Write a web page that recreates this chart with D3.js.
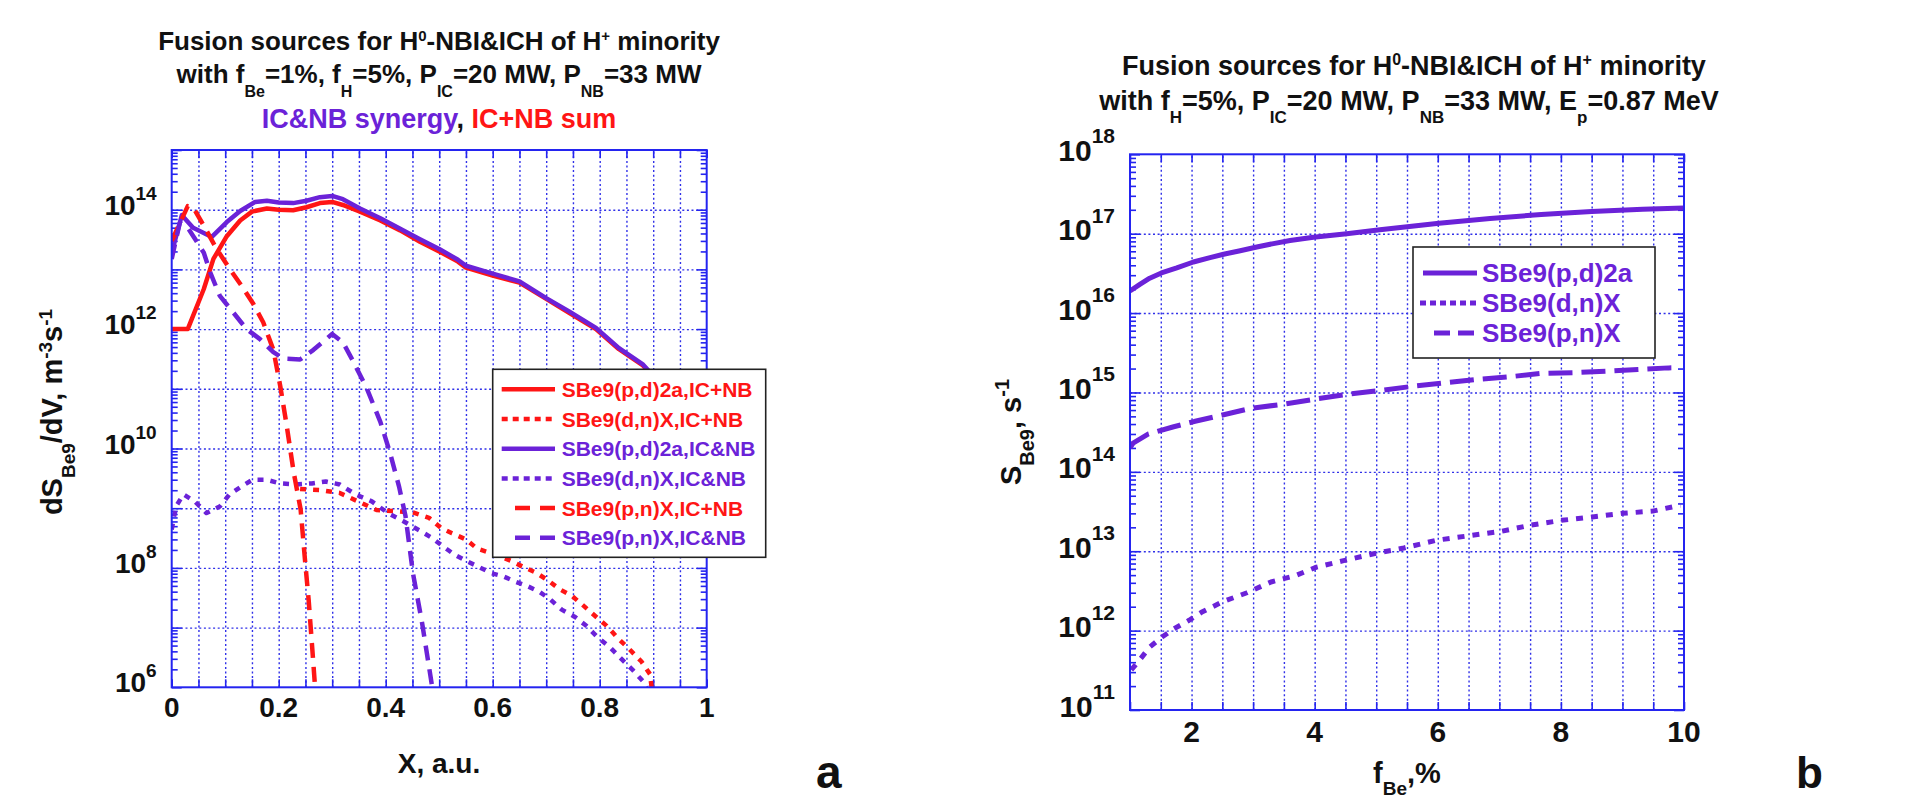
<!DOCTYPE html>
<html><head><meta charset="utf-8">
<script src="https://cdn.jsdelivr.net/npm/d3@7"></script>
<style>
body{margin:0;background:#fff}
svg{display:block}
text{font-family:"Liberation Sans",Arial,Helvetica,sans-serif;font-weight:bold}
</style>
</head><body>
<svg id="c" width="1930" height="800"></svg>
<script>
// ---------------- DATA: panel a (X, a.u. vs dS/dV) ----------------
const pdSumA = [[0,1e12],[0.03,1e12],[0.06,4.7e12],[0.078,1.5e13],[0.103,3.6e13],[0.128,6.6e13],[0.15,9.3e13],[0.178,1.05e14],[0.2,1.0e14],[0.227,9.8e13],[0.252,1.1e14],[0.277,1.29e14],[0.3,1.35e14],[0.32,1.2e14],[0.352,9.3e13],[0.39,6.6e13],[0.427,4.5e13],[0.464,2.9e13],[0.5,2.0e13],[0.535,1.35e13],[0.55,1.07e13],[0.6,7.9e12],[0.65,6.0e12],[0.7,3.2e12],[0.742,1.9e12],[0.793,1.0e12],[0.836,4.6e11],[0.88,2.5e11],[0.92,1.0e11],[0.96,3.0e10]];
const dnSumA = [[0.24,2.1e9],[0.28,2.0e9],[0.314,1.8e9],[0.348,1.3e9],[0.383,9.3e8],[0.42,8.9e8],[0.451,8.5e8],[0.481,6.9e8],[0.503,4.7e8],[0.524,3.8e8],[0.55,3.0e8],[0.571,2.1e8],[0.606,1.66e8],[0.635,1.3e8],[0.659,1.02e8],[0.681,8.3e7],[0.702,6.3e7],[0.725,4.4e7],[0.748,3.4e7],[0.768,2.4e7],[0.791,1.58e7],[0.813,1.07e7],[0.835,6.5e6],[0.856,4.3e6],[0.878,2.7e6],[0.894,1.66e6],[0.897,1.0e6]];
const pdSynA = [[0,1.9e13],[0.019,8.1e13],[0.04,5.0e13],[0.075,3.5e13],[0.103,6.2e13],[0.128,9.5e13],[0.156,1.35e14],[0.178,1.41e14],[0.2,1.32e14],[0.227,1.29e14],[0.252,1.41e14],[0.277,1.62e14],[0.3,1.7e14],[0.32,1.5e14],[0.352,1.05e14],[0.39,7.2e13],[0.427,4.8e13],[0.464,3.2e13],[0.5,2.2e13],[0.535,1.45e13],[0.55,1.15e13],[0.6,8.5e12],[0.65,6.3e12],[0.7,3.3e12],[0.742,2.0e12],[0.793,1.05e12],[0.836,4.8e11],[0.88,2.6e11],[0.92,1.05e11],[0.96,3.3e10]];
const dnSynA = [[0,4.4e8],[0.008,1.07e9],[0.022,1.7e9],[0.043,1.3e9],[0.065,8.3e8],[0.09,1.07e9],[0.108,1.7e9],[0.13,2.3e9],[0.151,3.0e9],[0.177,3.0e9],[0.203,2.6e9],[0.232,2.5e9],[0.262,2.6e9],[0.288,2.8e9],[0.314,2.5e9],[0.344,1.7e9],[0.374,1.3e9],[0.404,8.3e8],[0.434,6.0e8],[0.46,4.4e8],[0.486,3.2e8],[0.507,2.3e8],[0.529,1.66e8],[0.551,1.3e8],[0.573,1.05e8],[0.598,8.1e7],[0.62,7.2e7],[0.642,5.9e7],[0.664,5.0e7],[0.687,4.0e7],[0.707,3.0e7],[0.729,2.0e7],[0.754,1.5e7],[0.775,1.07e7],[0.796,6.9e6],[0.819,4.7e6],[0.842,2.9e6],[0.863,1.9e6],[0.883,1.2e6],[0.888,1.0e6]];
const pnSumA = [[0,3.0e13],[0.03,1.15e14],[0.04,1.1e14],[0.06,5.4e13],[0.084,2.2e13],[0.109,1.0e13],[0.13,5.4e12],[0.153,2.6e12],[0.171,1.3e12],[0.19,4.5e11],[0.203,1.1e11],[0.215,2.4e10],[0.228,4.0e9],[0.241,9.5e8],[0.249,1.4e8],[0.256,2.9e7],[0.262,5.5e6],[0.268,1.0e6]];
const pnSynA = [[0,1.5e13],[0.015,6.0e13],[0.03,5.0e13],[0.044,3.2e13],[0.06,1.9e13],[0.072,8.9e12],[0.09,3.6e12],[0.115,1.9e12],[0.14,1.0e12],[0.165,6.8e11],[0.19,4.1e11],[0.209,3.2e11],[0.24,3.1e11],[0.265,4.5e11],[0.3,8.3e11],[0.32,6.0e11],[0.34,2.8e11],[0.365,1.0e11],[0.39,2.8e10],[0.408,8.5e9],[0.425,2.3e9],[0.437,7.4e8],[0.451,8.1e7],[0.468,1.2e7],[0.487,1.0e6]];
const xTicksA = [0,0.2,0.4,0.6,0.8,1];
const xTickLabelsA = ["0","0.2","0.4","0.6","0.8","1"];
const yTickExpA = [6,8,10,12,14];
const legendA = ["SBe9(p,d)2a,IC+NB","SBe9(d,n)X,IC+NB","SBe9(p,d)2a,IC&NB","SBe9(d,n)X,IC&NB","SBe9(p,n)X,IC+NB","SBe9(p,n)X,IC&NB"];

// ---------------- DATA: panel b (f_Be, % vs S_Be9) ----------------
const fPd = [1.0,1.16,1.32,1.51,1.76,2.03,2.3,2.52,2.79,3.06,3.33,3.6,3.98,4.52,5.06,6.02,6.85,7.68,8.5,9.33,10];
const sPd = [1.9e16,2.3e16,2.75e16,3.2e16,3.7e16,4.4e16,5.0e16,5.5e16,6.1e16,6.8e16,7.5e16,8.2e16,9.0e16,1.0e17,1.12e17,1.35e17,1.55e17,1.75e17,1.9e17,2.03e17,2.1e17];
const fDn = [1.02,1.17,1.32,1.52,1.71,1.96,2.16,2.5,2.9,3.29,3.68,4.03,4.47,4.96,5.45,5.99,6.54,7.03,7.52,8.01,8.51,9.0,9.49,9.94];
const sDn = [3.2e11,4.4e11,6.2e11,8.3e11,1.05e12,1.35e12,1.7e12,2.3e12,3.0e12,4.1e12,4.9e12,6.3e12,7.6e12,9.3e12,1.1e13,1.38e13,1.58e13,1.78e13,2.14e13,2.45e13,2.7e13,3.0e13,3.2e13,3.8e13];
const fPn = [1.0,1.05,1.3,1.71,2.04,2.46,2.96,3.54,4.03,4.53,5.11,5.61,6.11,6.6,7.18,7.68,8.26,8.76,9.25,9.75,9.9];
const sPn = [2.0e14,2.3e14,3.0e14,3.7e14,4.3e14,5.1e14,6.3e14,7.2e14,8.3e14,9.5e14,1.07e15,1.2e15,1.32e15,1.45e15,1.58e15,1.74e15,1.78e15,1.86e15,1.95e15,2.04e15,2.05e15];
const xTicksB = [2,4,6,8,10];
const xTickLabelsB = ["2","4","6","8","10"];
const yTickExpB = [11,12,13,14,15,16,17,18];
const legendB = ["SBe9(p,d)2a","SBe9(d,n)X","SBe9(p,n)X"];

// ---------------- STYLE ----------------
const RED = "#ff1515", PUR = "#6b22d8", AX = "#2424f0", GRID = "#3030e8";
const svg = d3.select("#c");
const defs = svg.append("defs");

function rich(textSel, segs, subSize, supShift, subShift) {
  let cur = 0;
  segs.forEach(s => {
    const target = s.k === "sup" ? -supShift : (s.k === "sub" ? subShift : 0);
    const ts = textSel.append("tspan").text(s.t).attr("dy", target - cur);
    if (s.k) ts.attr("font-size", subSize);
    if (s.c) ts.attr("fill", s.c);
    cur = target;
  });
}

function drawPanel(p) {
  const x = d3.scaleLinear().domain(p.xDomain).range([p.l, p.r]);
  const y = d3.scaleLog().domain(p.yDomain).range([p.b, p.t]);
  const W = p.r - p.l, H = p.b - p.t;
  const g = svg.append("g");
  defs.append("clipPath").attr("id", "clip" + p.id).append("rect")
    .attr("x", p.l).attr("y", p.t).attr("width", W).attr("height", H);

  const styleGrid = sel => {
    sel.select(".domain").remove();
    sel.selectAll("line").attr("stroke", GRID).attr("stroke-width", 1.4).attr("stroke-dasharray", "2,2.6");
  };
  g.append("g").attr("transform", `translate(0,${p.b})`)
    .call(d3.axisBottom(x).tickValues(p.xGrid).tickSize(-H).tickFormat("")).call(styleGrid);
  g.append("g").attr("transform", `translate(${p.l},0)`)
    .call(d3.axisLeft(y).tickValues(p.yGrid).tickSize(-W).tickFormat("")).call(styleGrid);

  const styleTicks = sel => {
    sel.select(".domain").remove();
    sel.selectAll("line").attr("stroke", AX).attr("stroke-width", 1.6);
  };
  const allX = p.xGrid.concat(p.xDomain);
  g.append("g").attr("transform", `translate(0,${p.b})`).call(d3.axisBottom(x).tickValues(allX).tickSize(-8).tickFormat("")).call(styleTicks);
  g.append("g").attr("transform", `translate(0,${p.t})`).call(d3.axisTop(x).tickValues(allX).tickSize(-8).tickFormat("")).call(styleTicks);
  const minors = [], majors = [];
  const e0 = Math.round(Math.log10(p.yDomain[0])), e1 = Math.round(Math.log10(p.yDomain[1]));
  for (let e = e0; e <= e1; e++) {
    majors.push(Math.pow(10, e));
    if (e < e1) for (let m = 2; m <= 9; m++) minors.push(m * Math.pow(10, e));
  }
  [[d3.axisLeft, p.l], [d3.axisRight, p.r]].forEach(([ax, pos]) => {
    g.append("g").attr("transform", `translate(${pos},0)`).call(ax(y).tickValues(minors).tickSize(-6).tickFormat("")).call(styleTicks);
    g.append("g").attr("transform", `translate(${pos},0)`).call(ax(y).tickValues(majors).tickSize(-10).tickFormat("")).call(styleTicks);
  });

  const line = d3.line().x(d => x(d[0])).y(d => y(d[1]));
  const sg = g.append("g").attr("clip-path", `url(#clip${p.id})`);
  p.series.forEach(s => {
    sg.append("path").datum(s.data).attr("d", line).attr("fill", "none")
      .attr("stroke", s.color).attr("stroke-width", p.lw)
      .attr("stroke-dasharray", s.dash || null).attr("stroke-linejoin", "round");
  });

  g.append("rect").attr("x", p.l).attr("y", p.t).attr("width", W).attr("height", H)
    .attr("fill", "none").attr("stroke", AX).attr("stroke-width", 2);

  p.xTicks.forEach((v, i) => {
    g.append("text").attr("x", x(v)).attr("y", p.b + p.xLabOff).attr("text-anchor", "middle")
      .attr("font-size", p.tickFs).attr("fill", "#111").text(p.xTickLabels[i]);
  });
  p.yTickExp.forEach(e => {
    const t = g.append("text").attr("x", p.l - p.yLabGap).attr("y", y(Math.pow(10, e)) + p.yBaseOff)
      .attr("text-anchor", "end").attr("font-size", p.tickFs).attr("fill", "#111");
    t.append("tspan").text("10");
    t.append("tspan").text(String(e)).attr("font-size", p.expFs).attr("dy", -p.expShift);
  });

  const L = p.legend;
  g.append("rect").attr("x", L.x).attr("y", L.y).attr("width", L.w).attr("height", L.h)
    .attr("fill", "#fff").attr("stroke", "#222").attr("stroke-width", 1.6);
  L.items.forEach((it, i) => {
    const cy = L.y + L.first + i * L.step;
    g.append("line").attr("x1", it.x1 || L.lx1).attr("x2", L.lx2).attr("y1", cy).attr("y2", cy)
      .attr("stroke", it.color).attr("stroke-width", p.lw).attr("stroke-dasharray", it.ldash || null);
    g.append("text").attr("x", L.tx).attr("y", cy + L.baseOff).attr("font-size", L.fs)
      .attr("fill", it.color).text(it.label);
  });
  return {x, y};
}

// ---------------- PANEL A ----------------
drawPanel({
  id: "A", l: 171.7, r: 706.7, t: 150, b: 687.3,
  xDomain: [0, 1], yDomain: [1e6, 1e15],
  xGrid: d3.range(1, 20).map(i => i * 0.05),
  yGrid: [1e7,1e8,1e9,1e10,1e11,1e12,1e13,1e14],
  xTicks: xTicksA, xTickLabels: xTickLabelsA, yTickExp: yTickExpA,
  tickFs: 28, expFs: 19, expShift: 15, yBaseOff: 5, yLabGap: 15, xLabOff: 30, lw: 4.5,
  series: [
    {data: pdSumA, color: RED},
    {data: dnSumA, color: RED, dash: "6,7"},
    {data: pdSynA, color: PUR},
    {data: dnSynA, color: PUR, dash: "6,7"},
    {data: pnSumA, color: RED, dash: "15,9"},
    {data: pnSynA, color: PUR, dash: "15,9"}
  ],
  legend: {
    x: 492.7, y: 369.3, w: 273, h: 188, first: 20, step: 29.7, lx1: 501.7, lx2: 555, tx: 561.7, fs: 21, baseOff: 7.5,
    items: [
      {label: legendA[0], color: RED},
      {label: legendA[1], color: RED, ldash: "6,5"},
      {label: legendA[2], color: PUR},
      {label: legendA[3], color: PUR, ldash: "6,5"},
      {label: legendA[4], color: RED, ldash: "15,10", x1: 515},
      {label: legendA[5], color: PUR, ldash: "15,10", x1: 515}
    ]
  }
});

// ---------------- PANEL B ----------------
const zip = (a, b) => a.map((v, i) => [v, b[i]]);
drawPanel({
  id: "B", l: 1130, r: 1684, t: 154.3, b: 710,
  xDomain: [1, 10], yDomain: [1e11, 1e18],
  xGrid: d3.range(1, 18).map(i => 1 + i * 0.5),
  yGrid: [1e12,1e13,1e14,1e15,1e16,1e17],
  xTicks: xTicksB, xTickLabels: xTickLabelsB, yTickExp: yTickExpB,
  tickFs: 30, expFs: 21, expShift: 17.5, yBaseOff: 6.5, yLabGap: 15, xLabOff: 32, lw: 5,
  series: [
    {data: zip(fPd, sPd), color: PUR},
    {data: zip(fDn, sDn), color: PUR, dash: "7,8"},
    {data: zip(fPn, sPn), color: PUR, dash: "24,9"}
  ],
  legend: {
    x: 1413, y: 247, w: 242, h: 111, first: 26, step: 30, lx1: 1423, lx2: 1477, tx: 1482, fs: 26, baseOff: 9,
    items: [
      {label: legendB[0], color: PUR},
      {label: legendB[1], color: PUR, ldash: "6,4", x1: 1420},
      {label: legendB[2], color: PUR, ldash: "16,8", x1: 1434}
    ]
  }
});

// ---------------- TITLES & AXIS LABELS ----------------
const tA1 = svg.append("text").attr("x", 439).attr("y", 50).attr("text-anchor", "middle").attr("font-size", 26).attr("fill", "#111");
rich(tA1, [{t:"Fusion sources for H"},{t:"0",k:"sup"},{t:"-NBI&ICH of H"},{t:"+",k:"sup"},{t:" minority"}], 15, 9, 13);
const tA2 = svg.append("text").attr("x", 439).attr("y", 83).attr("text-anchor", "middle").attr("font-size", 26).attr("fill", "#111");
rich(tA2, [{t:"with f"},{t:"Be",k:"sub"},{t:"=1%, f"},{t:"H",k:"sub"},{t:"=5%, P"},{t:"IC",k:"sub"},{t:"=20 MW, P"},{t:"NB",k:"sub"},{t:"=33 MW"}], 16, 9, 14);
const tA3 = svg.append("text").attr("x", 439).attr("y", 128).attr("text-anchor", "middle").attr("font-size", 27);
rich(tA3, [{t:"IC&NB synergy", c: PUR},{t:", ", c:"#111"},{t:"IC+NB sum", c: RED}], 27, 0, 0);

const tB1 = svg.append("text").attr("x", 1414).attr("y", 75).attr("text-anchor", "middle").attr("font-size", 27).attr("fill", "#111");
rich(tB1, [{t:"Fusion sources for H"},{t:"0",k:"sup"},{t:"-NBI&ICH of H"},{t:"+",k:"sup"},{t:" minority"}], 16, 10, 13);
const tB2 = svg.append("text").attr("x", 1409).attr("y", 110).attr("text-anchor", "middle").attr("font-size", 27).attr("fill", "#111");
rich(tB2, [{t:"with  f"},{t:"H",k:"sub"},{t:"=5%, P"},{t:"IC",k:"sub"},{t:"=20 MW, P"},{t:"NB",k:"sub"},{t:"=33 MW, E"},{t:"p",k:"sub"},{t:"=0.87 MeV"}], 17, 9, 13);

const yA = svg.append("text").attr("transform", "translate(62,412) rotate(-90)").attr("text-anchor", "middle").attr("font-size", 29).attr("fill", "#111");
rich(yA, [{t:"dS"},{t:"Be9",k:"sub"},{t:"/dV, m"},{t:"-3",k:"sup"},{t:"s"},{t:"-1",k:"sup"}], 19, 10, 13);
const yB = svg.append("text").attr("transform", "translate(1021,432) rotate(-90)").attr("text-anchor", "middle").attr("font-size", 29).attr("fill", "#111");
rich(yB, [{t:"S"},{t:"Be9",k:"sub"},{t:", s"},{t:"-1",k:"sup"}], 20, 12, 13);

svg.append("text").attr("x", 439).attr("y", 773).attr("text-anchor", "middle").attr("font-size", 28).attr("fill", "#111").text("X, a.u.");
const xB = svg.append("text").attr("x", 1407).attr("y", 783).attr("text-anchor", "middle").attr("font-size", 29).attr("fill", "#111");
rich(xB, [{t:"f"},{t:"Be",k:"sub"},{t:",%"}], 19, 0, 12);

svg.append("text").attr("x", 816).attr("y", 788).attr("font-size", 46).attr("fill", "#111").text("a");
svg.append("text").attr("x", 1796).attr("y", 788).attr("font-size", 44).attr("fill", "#111").text("b");
</script>
</body></html>
